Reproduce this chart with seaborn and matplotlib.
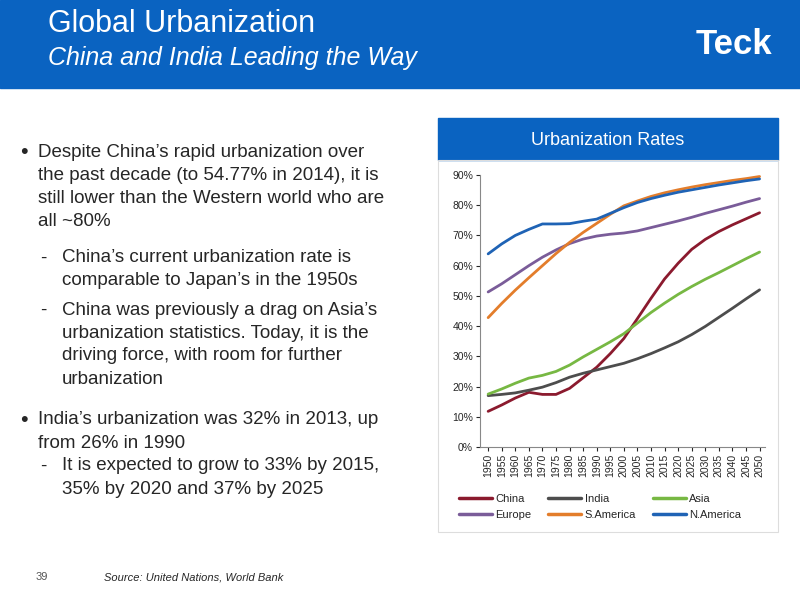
import matplotlib
matplotlib.use("Agg")
import matplotlib.pyplot as plt
import seaborn as sns
import pandas as pd
from matplotlib.patches import Rectangle
from matplotlib.ticker import PercentFormatter

years = list(range(1950, 2051, 5))
china = [11.8,13.9,16.2,18.1,17.4,17.4,19.4,22.9,26.4,30.9,35.9,42.5,49.2,55.6,60.8,65.4,68.7,71.3,73.5,75.5,77.5]
india = [17.0,17.4,17.9,18.8,19.8,21.3,23.1,24.4,25.5,26.6,27.7,29.2,30.9,32.8,34.8,37.2,39.9,42.9,45.9,49.0,52.0]
asia = [17.5,19.2,21.1,22.8,23.7,25.0,27.1,29.8,32.3,34.8,37.5,41.0,44.5,47.6,50.5,53.1,55.5,57.7,60.0,62.3,64.5]
europe = [51.3,54.0,57.0,60.0,62.8,65.2,67.3,68.8,69.8,70.4,70.8,71.5,72.6,73.7,74.8,76.0,77.3,78.5,79.7,81.0,82.2]
samerica = [42.8,47.5,51.9,56.0,60.0,64.0,67.7,71.0,74.0,77.0,79.8,81.4,82.9,84.1,85.1,86.0,86.8,87.5,88.2,88.8,89.5]
namerica = [63.9,67.2,70.0,72.0,73.8,73.8,73.9,74.7,75.4,77.3,79.2,80.9,82.2,83.3,84.3,85.1,85.9,86.7,87.4,88.1,88.7]
series = {"China": china, "India": india, "Asia": asia,
          "Europe": europe, "S.America": samerica, "N.America": namerica}
colors = ["#8B1A2E", "#4D4D4D", "#77B843", "#7A5C99", "#E37D2B", "#1F63B5"]

df = pd.DataFrame([(y, k, v) for k, vals in series.items() for y, v in zip(years, vals)],
                  columns=["Year", "Region", "Rate"])

sns.set_style("white")
plt.rcParams['font.family'] = ['Liberation Sans', 'DejaVu Sans']
fig = plt.figure(figsize=(8, 6), dpi=100)

def Y(p):
    return 1 - p / 600

# header
fig.patches.append(Rectangle((0, Y(88)), 1, 88/600, transform=fig.transFigure, color="#0A63C1", zorder=0))
fig.text(48/800, Y(24), "Global Urbanization", color="white", fontsize=22, va="center")
fig.text(48/800, Y(58), "China and India Leading the Way", color="white", fontsize=18, style="italic", va="center")
fig.text(772/800, Y(44), "Teck", color="white", fontsize=25, fontweight="bold", ha="right", va="center")

# chart panel title bar
fig.patches.append(Rectangle((438/800, Y(160)), 340/800, 42/600, transform=fig.transFigure, color="#0A63C1", zorder=0))
fig.text(608/800, Y(140), "Urbanization Rates", color="white", fontsize=13, ha="center", va="center")
fig.patches.append(Rectangle((438/800, Y(532)), 340/800, 372/600, transform=fig.transFigure,
                             fill=False, edgecolor="#DDDDDD", lw=0.8, zorder=0))

# bullets
fs = 13.5
blocks = [
    ("•", 20, 38, [152, 175, 198, 221], ["Despite China’s rapid urbanization over",
        "the past decade (to 54.77% in 2014), it is", "still lower than the Western world who are", "all ~80%"]),
    ("-", 40, 62, [258, 281], ["China’s current urbanization rate is", "comparable to Japan’s in the 1950s"]),
    ("-", 40, 62, [310, 333, 356, 379], ["China was previously a drag on Asia’s",
        "urbanization statistics. Today, it is the", "driving force, with room for further", "urbanization"]),
    ("•", 20, 38, [420, 443], ["India’s urbanization was 32% in 2013, up", "from 26% in 1990"]),
    ("-", 40, 62, [466, 489], ["It is expected to grow to 33% by 2015,", "35% by 2020 and 37% by 2025"]),
]
for mark, mx, tx, ys, lines in blocks:
    fig.text(mx/800, Y(ys[0]), mark, fontsize=fs+2 if mark == "•" else fs, va="center")
    for yy, ln in zip(ys, lines):
        fig.text(tx/800, Y(yy), ln, fontsize=fs, va="center")

fig.text(36/800, Y(577), "39", fontsize=8, color="#555555", va="center")
fig.text(104/800, Y(577), "Source: United Nations, World Bank", fontsize=8, style="italic", va="center")

ax = fig.add_axes([480/800, Y(447), 285/800, 272/600])
sns.lineplot(data=df, x="Year", y="Rate", hue="Region", palette=colors, lw=2, ax=ax, legend=False)
ax.set_xlim(1947, 2052)
ax.set_ylim(0, 90)
ax.set_yticks(range(0, 91, 10))
ax.yaxis.set_major_formatter(PercentFormatter(decimals=0))
ax.set_xticks(years)
ax.set_xticklabels([str(y) for y in years], rotation=90)
ax.tick_params(labelsize=7.5, length=3, direction="out", bottom=True, left=True, pad=2)
ax.set_xlabel(""); ax.set_ylabel("")
for s in ["top", "right"]:
    ax.spines[s].set_visible(False)
for s in ["left", "bottom"]:
    ax.spines[s].set_color("#888888")

names = list(series.keys())
order = [0, 3, 1, 4, 2, 5]
handles = [plt.Line2D([], [], color=colors[i], lw=2.5) for i in order]
fig.legend(handles, [names[i] for i in order], loc="center", bbox_to_anchor=(600/800, Y(507)),
           ncol=3, frameon=False, fontsize=8, handlelength=3, columnspacing=1.5, handletextpad=0.3)

fig.savefig("out.png", dpi=100)
